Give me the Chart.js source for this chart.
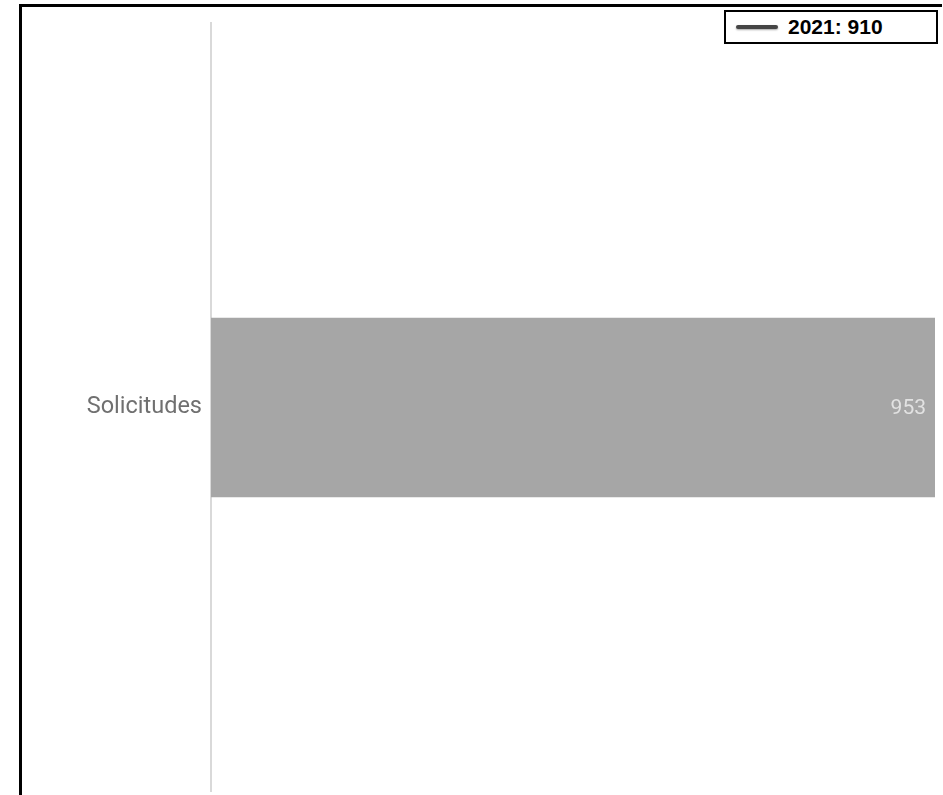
<!DOCTYPE html>
<html>
<head>
<meta charset="utf-8">
<script src="https://cdn.jsdelivr.net/npm/chart.js@4/dist/chart.umd.min.js"></script>
<style>
  html, body { margin: 0; padding: 0; background: #fff; overflow: hidden; }
  #wrap { position: relative; width: 943px; height: 795px; overflow: hidden; }
  #frame { position: absolute; left: 19px; top: 4px; width: 920px; height: 800px;
           border-top: 3px solid #000; border-left: 3px solid #000; }
  #chart { position: absolute; left: 0; top: 0; }
  #legend { position: absolute; left: 724px; top: 10px; width: 210px; height: 30px;
            border: 2px solid #000; background: #fff;
            font: bold 21px "Liberation Sans", Arial, sans-serif; color: #000; }
  #legend .swatch { position: absolute; left: 10px; top: 13px; width: 42px; height: 4px;
                    background: #454545; border-radius: 2px; box-shadow: 0 1px 2px rgba(0,0,0,0.35); }
  #legend .text { position: absolute; left: 62px; top: 3px; line-height: 24px; }
</style>
</head>
<body>
<div id="wrap">
  <canvas id="chart" width="943" height="815"></canvas>
  <div id="frame"></div>
  <div id="legend"><span class="swatch"></span><span class="text" id="legendText"></span></div>
</div>
<script>
// chart data
const categories = ['Solicitudes'];
const values = [953];
const legendLabels = ['2021: 910'];

document.getElementById('legendText').textContent = legendLabels[0];

// draws the value inside the end of each bar
const valueLabels = {
  id: 'valueLabels',
  afterDatasetsDraw(chart) {
    const ctx = chart.ctx;
    const meta = chart.getDatasetMeta(0);
    ctx.save();
    ctx.font = '21px Roboto, sans-serif';
    ctx.fillStyle = '#e2e2e2';
    ctx.textAlign = 'right';
    ctx.textBaseline = 'middle';
    meta.data.forEach((bar, i) => {
      ctx.fillText(String(values[i]), bar.x - 9, bar.y + 1);
    });
    ctx.restore();
  }
};

const ctx = document.getElementById('chart').getContext('2d');
new Chart(ctx, {
  type: 'bar',
  data: {
    labels: categories,
    datasets: [{
      data: values,
      backgroundColor: '#a6a6a6',
      borderWidth: 0,
      categoryPercentage: 1,
      barPercentage: 0.2335
    }]
  },
  options: {
    indexAxis: 'y',
    responsive: false,
    animation: false,
    layout: { padding: { top: 21, bottom: 3, right: 8, left: 0 } },
    plugins: {
      legend: { display: false },
      tooltip: { enabled: false }
    },
    scales: {
      x: {
        display: false,
        min: 0,
        max: 953
      },
      y: {
        afterFit: (scale) => { scale.width = 211; },
        grid: { display: false, drawTicks: false },
        border: { display: true, color: '#d9d9d9', width: 2 },
        ticks: {
          color: '#707070',
          padding: 9,
          font: { family: 'Roboto', size: 23.5 }
        }
      }
    }
  },
  plugins: [valueLabels]
});
</script>
</body>
</html>
